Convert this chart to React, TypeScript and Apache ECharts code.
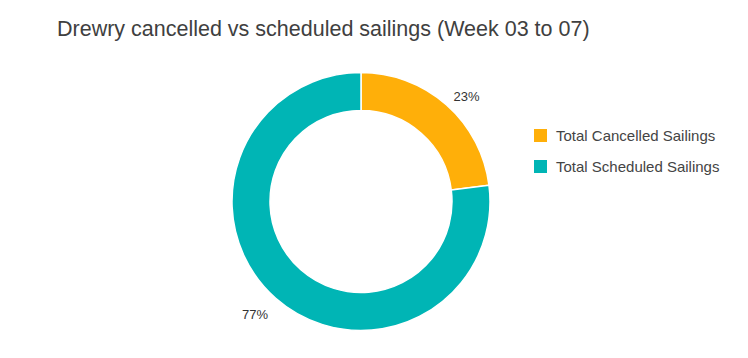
import React, { useEffect, useRef } from "react";
import * as echarts from "echarts";

const titleText = "Drewry cancelled vs scheduled sailings (Week 03 to 07)";
const categories = ["Total Cancelled Sailings", "Total Scheduled Sailings"];
const values = [23, 77];
const colors = ["#FFAF09", "#00B5B5"];

const FONT = "'Liberation Sans', Arial, sans-serif";

export default function App() {
  const ref = useRef<HTMLDivElement>(null);
  useEffect(() => {
    if (!ref.current) return;
    const chart = echarts.init(ref.current, undefined, { renderer: "svg" });
    const labelTweaks = [
      { length: 11, dist: 0 },
      { length: 22, dist: -7 },
    ];
    chart.setOption({
      animation: false,
      backgroundColor: "#ffffff",
      color: colors,
      title: {
        text: titleText,
        left: 57,
        top: 18,
        padding: 0,
        textStyle: { fontFamily: FONT, fontSize: 21.5, fontWeight: "normal", color: "#404040" },
      },
      legend: {
        orient: "vertical",
        left: 532,
        top: 127,
        padding: 0,
        itemWidth: 15,
        itemHeight: 15,
        itemGap: 14,
        icon: "rect",
        data: categories,
        textStyle: { fontFamily: FONT, fontSize: 15, color: "#444444", padding: [0, 0, 0, 3] },
      },
      series: [
        {
          type: "pie",
          center: [361, 201.5],
          radius: [91, 129],
          startAngle: 90,
          clockwise: true,
          itemStyle: { borderColor: "#ffffff", borderWidth: 1.5 },
          label: {
            show: true,
            position: "outside",
            formatter: "{d}%",
            fontFamily: FONT,
            fontSize: 13,
            color: "#333333",
            distanceToLabelLine: 0,
          },
          labelLine: { show: false, length: 11, length2: 0 },
          emphasis: { disabled: true },
          data: categories.map((name, i) => ({
            name,
            value: values[i],
            label: { distanceToLabelLine: labelTweaks[i].dist },
            labelLine: { show: false, length: labelTweaks[i].length, length2: 0 },
          })),
        },
      ],
    });
    return () => chart.dispose();
  }, []);
  return (
    <div
      ref={ref}
      style={{ position: "fixed", left: 0, top: 0, width: 748, height: 358 }}
    />
  );
}
